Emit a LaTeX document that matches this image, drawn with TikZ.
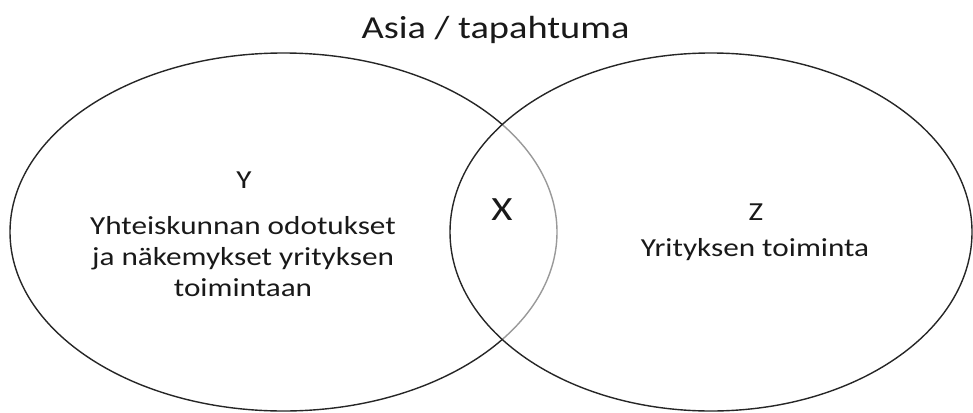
\documentclass[tikz,border=0pt]{standalone}
\usepackage{fontspec}
\setmainfont{Carlito}[FakeStretch=1.2]
\usepackage{tikz}
\tikzset{ring/.style={draw=black!85, line width=1.4pt},
 inner ring/.style={draw=black!40, line width=1.4pt},
 setlabel/.style={text=black!90, inner sep=0pt, align=center, anchor=base,
   font=\fontsize{26}{31}\selectfont},
 title/.style={text=black!90, inner sep=0pt, anchor=base,
   font=\fontsize{32}{38}\selectfont},
 }

\begin{document}
\begin{tikzpicture}[x=1pt,y=-1pt]
        \useasboundingbox (0,0) rectangle (973,412);
        \def\leftset{(283.5,232) ellipse (273.5pt and 179pt)}
        \def\rightset{(711,232) ellipse (261pt and 179pt)}
        % left set, the part outside the right one
        \begin{scope}[even odd rule]
            \clip (-20,-20) rectangle (993,432) \rightset;
            \draw[ring] \leftset;
        \end{scope}
        % left set, the part inside the right one
        \begin{scope}
            \clip \rightset;
            \draw[inner ring] \leftset;
        \end{scope}
        \draw[ring] \rightset;
        \node[title] (event) at (495.5,38) {Asia / tapahtuma};
        \node[setlabel] (y) at (244,188) {Y};
        % base of a three line node sits on its last line
        \node[setlabel] (ytext) at (243,296) {Yhteiskunnan odotukset\\ja näkemykset yrityksen\\toimintaan};
        \node[setlabel, font=\fontsize{34}{40}\selectfont] (x) at (502,220) {X};
        \node[setlabel] (z) at (756,220) {Z};
        \node[setlabel] (ztext) at (755,256) {Yrityksen toiminta};
    \end{tikzpicture}
\end{document}
